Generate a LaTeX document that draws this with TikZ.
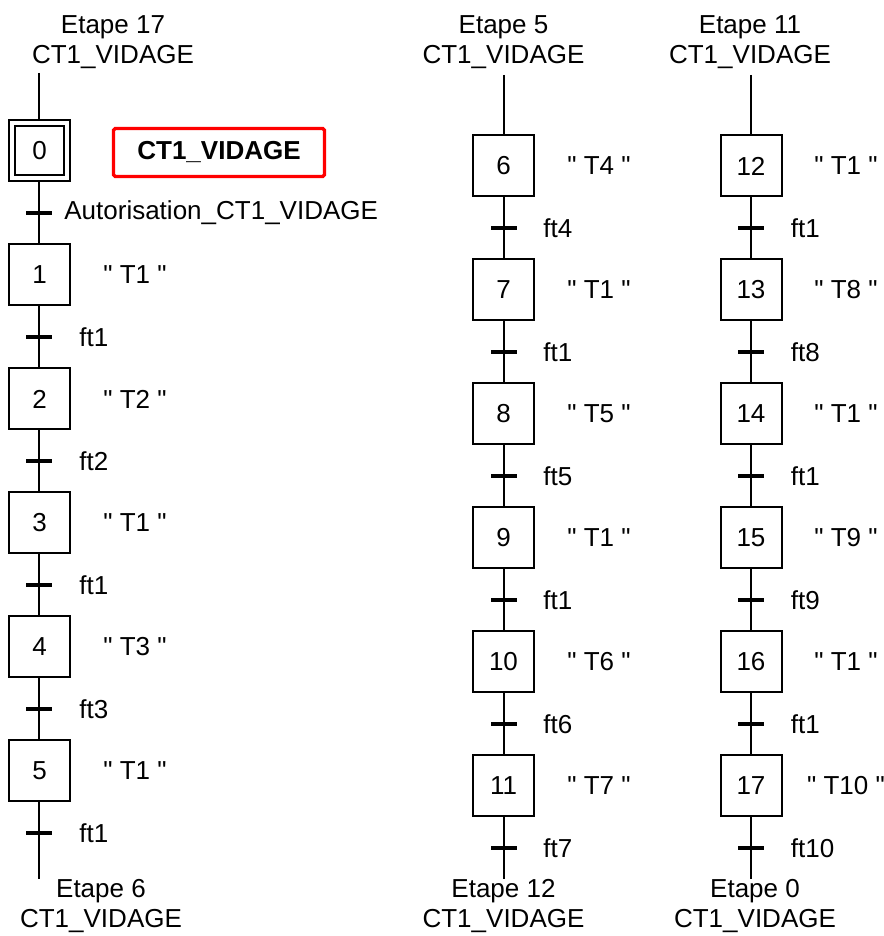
\documentclass[tikz,border=0pt]{standalone}
\usepackage{fontspec}
\setmainfont{Liberation Sans}[Ligatures=TeXOff]
\usepackage{xcolor}
\definecolor{gred}{RGB}{255,0,0}
\newcommand{\gfont}{\fontsize{14.8}{17}\selectfont}
\newcommand{\ctv}{CT1\_VIDAGE}
\tikzset{
  gstep/.style={draw, line width=0.04cm, minimum size=1.22cm, inner sep=0pt},
  gtrans/.style={fill=black, rectangle, minimum width=0.52cm, minimum height=0.08cm, inner sep=0pt, outer sep=0pt},
  glink/.style={line width=0.04cm},
  gact/.style={inner sep=0pt},
  grecep/.style={anchor=west, inner sep=0pt},
  gmacro/.style={draw=gred, line width=0.065cm, rounded corners=1pt, minimum width=4.22cm, minimum height=0.96cm, font=\gfont\bfseries},
  glabel/.style={align=center, inner sep=0pt}
}

\begin{document}
\begin{tikzpicture}[x=1cm, y=1cm, font=\gfont]
    \useasboundingbox (0,0) rectangle (17.68,18.72);
    % left sequence, initial step 0
    \coordinate (in1) at (0.79,17.26);
    \node[gstep] (s0) at (0.79,15.71) {};
    \node[gstep, minimum size=0.98cm] (s0i) at (s0) {0};
    \node[gmacro] (m0) at (4.38,15.67) {\ctv};
    \node[gtrans] (t0) at (0.79,14.46) {};
    \node[grecep] (r0) at (1.28,14.46) {Autorisation\_\ctv};
    \draw[glink] (in1) -- (s0);
    \draw[glink] (s0) -- (t0);
    \foreach \n/\act/\ft [count=\i from 0] in {1/T1/ft1, 2/T2/ft2, 3/T1/ft1, 4/T3/ft3, 5/T1/ft1} {
      \node[gstep] (s\n) at (0.79,13.22-2.48*\i) {\n};
      \node[gact] (a\n) at (2.70,13.22-2.48*\i) {" \act\ "};
      \node[gtrans] (t\n) at (0.79,11.98-2.48*\i) {};
      \node[grecep] (r\n) at (1.58,11.98-2.48*\i) {\ft};
      \draw[glink] (s\n) -- (t\n);
    }
    \foreach \a/\b in {0/1,1/2,2/3,3/4,4/5} \draw[glink] (t\a) -- (s\b);
    \coordinate (out1) at (0.79,1.14);
    \draw[glink] (t5) -- (out1);
    \node[glabel] (e17) at (2.26,17.88) {Etape 17\\\ctv};
    \node[glabel] (e6) at (2.02,0.60) {Etape 6\\\ctv};
    % middle sequence, steps 6 to 11
    \coordinate (in2) at (10.07,17.22);
    \foreach \n/\act/\ft [count=\i from 0] in {6/T4/ft4, 7/T1/ft1, 8/T5/ft5, 9/T1/ft1, 10/T6/ft6, 11/T7/ft7} {
      \node[gstep] (s\n) at (10.07,15.40-2.48*\i) {\n};
      \node[gact] (a\n) at (11.98,15.40-2.48*\i) {" \act\ "};
      \node[gtrans] (t\n) at (10.07,14.16-2.48*\i) {};
      \node[grecep] (r\n) at (10.86,14.16-2.48*\i) {\ft};
      \draw[glink] (s\n) -- (t\n);
    }
    \foreach \a/\b in {6/7,7/8,8/9,9/10,10/11} \draw[glink] (t\a) -- (s\b);
    \coordinate (out2) at (10.07,1.14);
    \draw[glink] (in2) -- (s6);
    \draw[glink] (t11) -- (out2);
    \node[glabel] (e5) at (10.07,17.88) {Etape 5\\\ctv};
    \node[glabel] (e12) at (10.07,0.60) {Etape 12\\\ctv};
    % right sequence, steps 12 to 17
    \coordinate (in3) at (15.02,17.22);
    \foreach \n/\act/\ft [count=\i from 0] in {12/T1/ft1, 13/T8/ft8, 14/T1/ft1, 15/T9/ft9, 16/T1/ft1, 17/T10/ft10} {
      \node[gstep] (s\n) at (15.02,15.40-2.48*\i) {\n};
      \node[gact] (a\n) at (16.92,15.40-2.48*\i) {" \act\ "};
      \node[gtrans] (t\n) at (15.02,14.16-2.48*\i) {};
      \node[grecep] (r\n) at (15.81,14.16-2.48*\i) {\ft};
      \draw[glink] (s\n) -- (t\n);
    }
    \foreach \a/\b in {12/13,13/14,14/15,15/16,16/17} \draw[glink] (t\a) -- (s\b);
    \coordinate (out3) at (15.02,1.14);
    \draw[glink] (in3) -- (s12);
    \draw[glink] (t17) -- (out3);
    \node[glabel] (e11) at (15.00,17.88) {Etape 11\\\ctv};
    \node[glabel] (e0) at (15.10,0.60) {Etape 0\\\ctv};
\end{tikzpicture}
\end{document}
